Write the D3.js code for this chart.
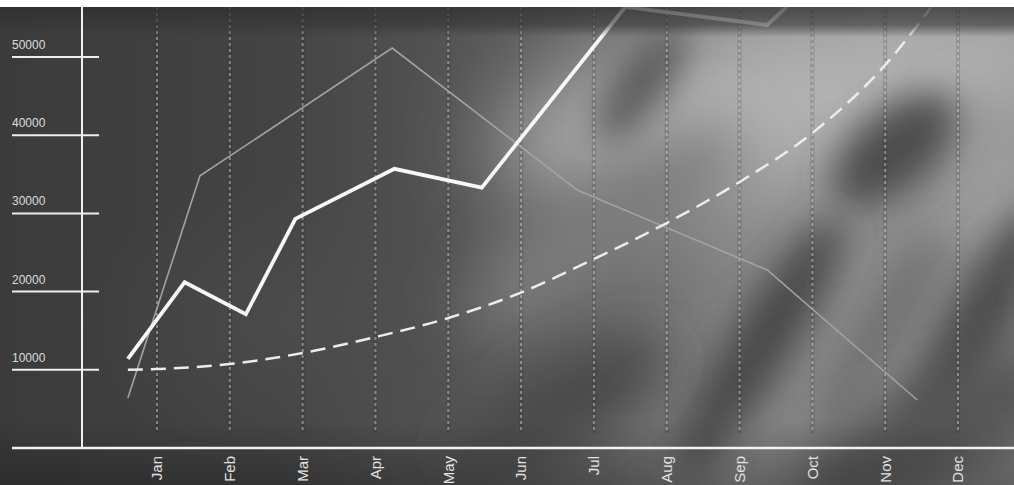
<!DOCTYPE html>
<html>
<head>
<meta charset="utf-8">
<script src="https://cdn.jsdelivr.net/npm/d3@7"></script>
<style>
  html, body { margin: 0; padding: 0; background: #ffffff; }
  svg { display: block; }
  text { font-family: "Liberation Sans", Arial, sans-serif; }
</style>
</head>
<body>
<div id="chart"></div>
<script>
// ---- data ----
const months = ["Jan","Feb","Mar","Apr","May","Jun","Jul","Aug","Sep","Oct","Nov","Dec"];
const monthPos = [1,2,3,4,5,6,7,8,9,10,11,12];
const yTicks = [10000, 20000, 30000, 40000, 50000];

// bold white series (x in month units, Jan = 1)
const actualX = [0.60, 1.38, 2.22, 2.90, 4.26, 5.46, 7.43, 9.38, 9.83];
const actualY = [11400, 21200, 17100, 29300, 35700, 33300, 56400, 54100, 58000];

// thin grey series
const compX = [0.60, 1.59, 4.23, 6.77, 9.38, 11.44];
const compY = [6400, 34800, 51150, 33000, 22760, 6140];

// dashed trend series
const trendX = [0.60, 1, 2, 3, 4, 5, 6, 7, 8, 9, 10, 11, 11.8];
const trendY = [10000, 10100, 10740, 12150, 14190, 16620, 19880, 24170, 28770, 34020, 40280, 48980, 58500];

// ---- layout ----
const W = 1014, H = 485;
const topY = 7, axisY = 448;

const svg = d3.select("#chart").append("svg").attr("width", W).attr("height", H);
const defs = svg.append("defs");

const x = d3.scaleLinear().domain([1, 12]).range([157, 958]);
const y = d3.scaleLinear().domain([0, 50000]).range([axisY, 57]);

// ---- background (photo-like) ----
const base = defs.append("linearGradient").attr("id", "base").attr("x1", 0).attr("y1", 0).attr("x2", 1).attr("y2", 0);
[[0, "#3b3b3b"], [0.28, "#444444"], [0.45, "#545454"], [0.6, "#696969"], [0.72, "#828282"], [0.85, "#8a8a8a"], [1, "#858585"]]
  .forEach(([o, c]) => base.append("stop").attr("offset", o).attr("stop-color", c));

const blur = (id, s) => defs.append("filter").attr("id", id)
  .attr("filterUnits", "userSpaceOnUse")
  .attr("x", -300).attr("y", -300).attr("width", W + 600).attr("height", H + 600)
  .append("feGaussianBlur").attr("stdDeviation", s);
[12, 18, 25, 30, 45].forEach(s => blur("b" + s, s));

defs.append("clipPath").attr("id", "photo").append("rect")
  .attr("x", 0).attr("y", topY).attr("width", W).attr("height", H - topY);
defs.append("clipPath").attr("id", "plot").append("rect")
  .attr("x", 0).attr("y", topY).attr("width", W).attr("height", axisY - topY);

const bg = svg.append("g").attr("clip-path", "url(#photo)");
bg.append("rect").attr("x", 0).attr("y", topY).attr("width", W).attr("height", H - topY).attr("fill", "url(#base)");

const blobs = [
  // [cx, cy, rx, ry, rot, fill, blur]
  [800, 100, 310, 85, -10, "#b2b2b2", 45],
  [1000, 190, 60, 90, 0, "#9c9c9c", 30],
  [600, 230, 170, 45, -35, "#7c7c7c", 30],
  [640, 85, 70, 24, -55, "#585858", 18],
  [895, 150, 75, 40, -40, "#4d4d4d", 18],
  [760, 345, 150, 30, -58, "#4a4a4a", 18],
  [560, 405, 120, 40, -30, "#484848", 25],
  [880, 330, 110, 20, -58, "#6e6e6e", 18],
  [975, 330, 140, 32, -62, "#4e4e4e", 18],
  [940, 430, 160, 50, -25, "#555555", 25]
];
bg.selectAll("ellipse.blob").data(blobs).join("ellipse")
  .attr("class", "blob")
  .attr("cx", d => d[0]).attr("cy", d => d[1]).attr("rx", d => d[2]).attr("ry", d => d[3])
  .attr("transform", d => `rotate(${d[4]},${d[0]},${d[1]})`)
  .attr("fill", d => d[5]).attr("filter", d => `url(#b${d[6]})`);

// soft radial patch on the left (avoids banding rings)
const rg = defs.append("radialGradient").attr("id", "leftPatch");
rg.append("stop").attr("offset", 0).attr("stop-color", "#505050").attr("stop-opacity", 0.6);
rg.append("stop").attr("offset", 1).attr("stop-color", "#505050").attr("stop-opacity", 0);
bg.append("ellipse").attr("cx", 300).attr("cy", 320).attr("rx", 220).attr("ry", 140).attr("fill", "url(#leftPatch)");

// bottom strip darker
const bottomG = defs.append("linearGradient").attr("id", "bottomG").attr("x1", 0).attr("y1", 0).attr("x2", 0).attr("y2", 1);
bottomG.append("stop").attr("offset", 0).attr("stop-color", "#000").attr("stop-opacity", 0);
bottomG.append("stop").attr("offset", 1).attr("stop-color", "#000").attr("stop-opacity", 0.25);
bg.append("rect").attr("x", 0).attr("y", 420).attr("width", W).attr("height", H - 420).attr("fill", "url(#bottomG)");

// ---- month gridlines ----
const grid = svg.append("g");
grid.selectAll("line.halo").data(monthPos).join("line")
  .attr("class", "halo")
  .attr("x1", d => x(d)).attr("x2", d => x(d))
  .attr("y1", topY).attr("y2", 433)
  .attr("stroke", "rgba(40,40,40,0.18)")
  .attr("stroke-width", 4);
grid.selectAll("line.dot").data(monthPos).join("line")
  .attr("class", "dot")
  .attr("x1", d => x(d)).attr("x2", d => x(d))
  .attr("y1", topY).attr("y2", 433)
  .attr("stroke", "rgba(225,225,225,0.45)")
  .attr("stroke-width", 2)
  .attr("stroke-dasharray", "3,3");

// ---- data lines ----
const plot = svg.append("g").attr("clip-path", "url(#plot)");

const trendData = trendX.map((v, i) => [v, trendY[i]]);
const compData = compX.map((v, i) => [v, compY[i]]);
const actualData = actualX.map((v, i) => [v, actualY[i]]);

plot.append("path").datum(compData)
  .attr("d", d3.line().x(d => x(d[0])).y(d => y(d[1])))
  .attr("fill", "none").attr("stroke", "#a2a2a2").attr("stroke-width", 1.6);

plot.append("path").datum(trendData)
  .attr("d", d3.line().curve(d3.curveMonotoneX).x(d => x(d[0])).y(d => y(d[1])))
  .attr("fill", "none").attr("stroke", "#ececec").attr("stroke-width", 2.5)
  .attr("stroke-dasharray", "15,8");

plot.append("path").datum(actualData)
  .attr("d", d3.line().x(d => x(d[0])).y(d => y(d[1])))
  .attr("fill", "none").attr("stroke", "#f7f7f7").attr("stroke-width", 3.8)
  .attr("stroke-linejoin", "miter");

// ---- top dark band (photo) over lines ----
const topG = defs.append("linearGradient").attr("id", "topG").attr("x1", 0).attr("y1", 0).attr("x2", 0).attr("y2", 1);
topG.append("stop").attr("offset", 0).attr("stop-color", "#2c2c2c").attr("stop-opacity", 0.72);
topG.append("stop").attr("offset", 0.6).attr("stop-color", "#353535").attr("stop-opacity", 0.6);
topG.append("stop").attr("offset", 1).attr("stop-color", "#3a3a3a").attr("stop-opacity", 0);
svg.append("rect").attr("x", 0).attr("y", topY).attr("width", W).attr("height", 30).attr("fill", "url(#topG)");

// ---- y axis ----
const yAxisG = svg.append("g");
yAxisG.selectAll("line.tick").data(yTicks).join("line")
  .attr("class", "tick")
  .attr("x1", 12).attr("x2", 99)
  .attr("y1", d => y(d)).attr("y2", d => y(d))
  .attr("stroke", "#eeeeee").attr("stroke-width", 2);
yAxisG.selectAll("text").data(yTicks).join("text")
  .attr("x", 12).attr("y", d => y(d) - 8)
  .attr("fill", "#dcdcdc").attr("font-size", 12)
  .text(d => d3.format("d")(d));
yAxisG.append("line")
  .attr("x1", 82).attr("x2", 82).attr("y1", topY).attr("y2", axisY)
  .attr("stroke", "#f0f0f0").attr("stroke-width", 2);

// ---- x axis ----
svg.append("line")
  .attr("x1", 12).attr("x2", W).attr("y1", axisY).attr("y2", axisY)
  .attr("stroke", "#f2f2f2").attr("stroke-width", 2.5);

svg.append("g").selectAll("text").data(months).join("text")
  .attr("transform", (d, i) => `translate(${x(monthPos[i])},456) rotate(-90)`)
  .attr("text-anchor", "end")
  .attr("dy", "0.36em")
  .attr("fill", "#e2e2e2").attr("font-size", 15)
  .text(d => d);
</script>
</body>
</html>
